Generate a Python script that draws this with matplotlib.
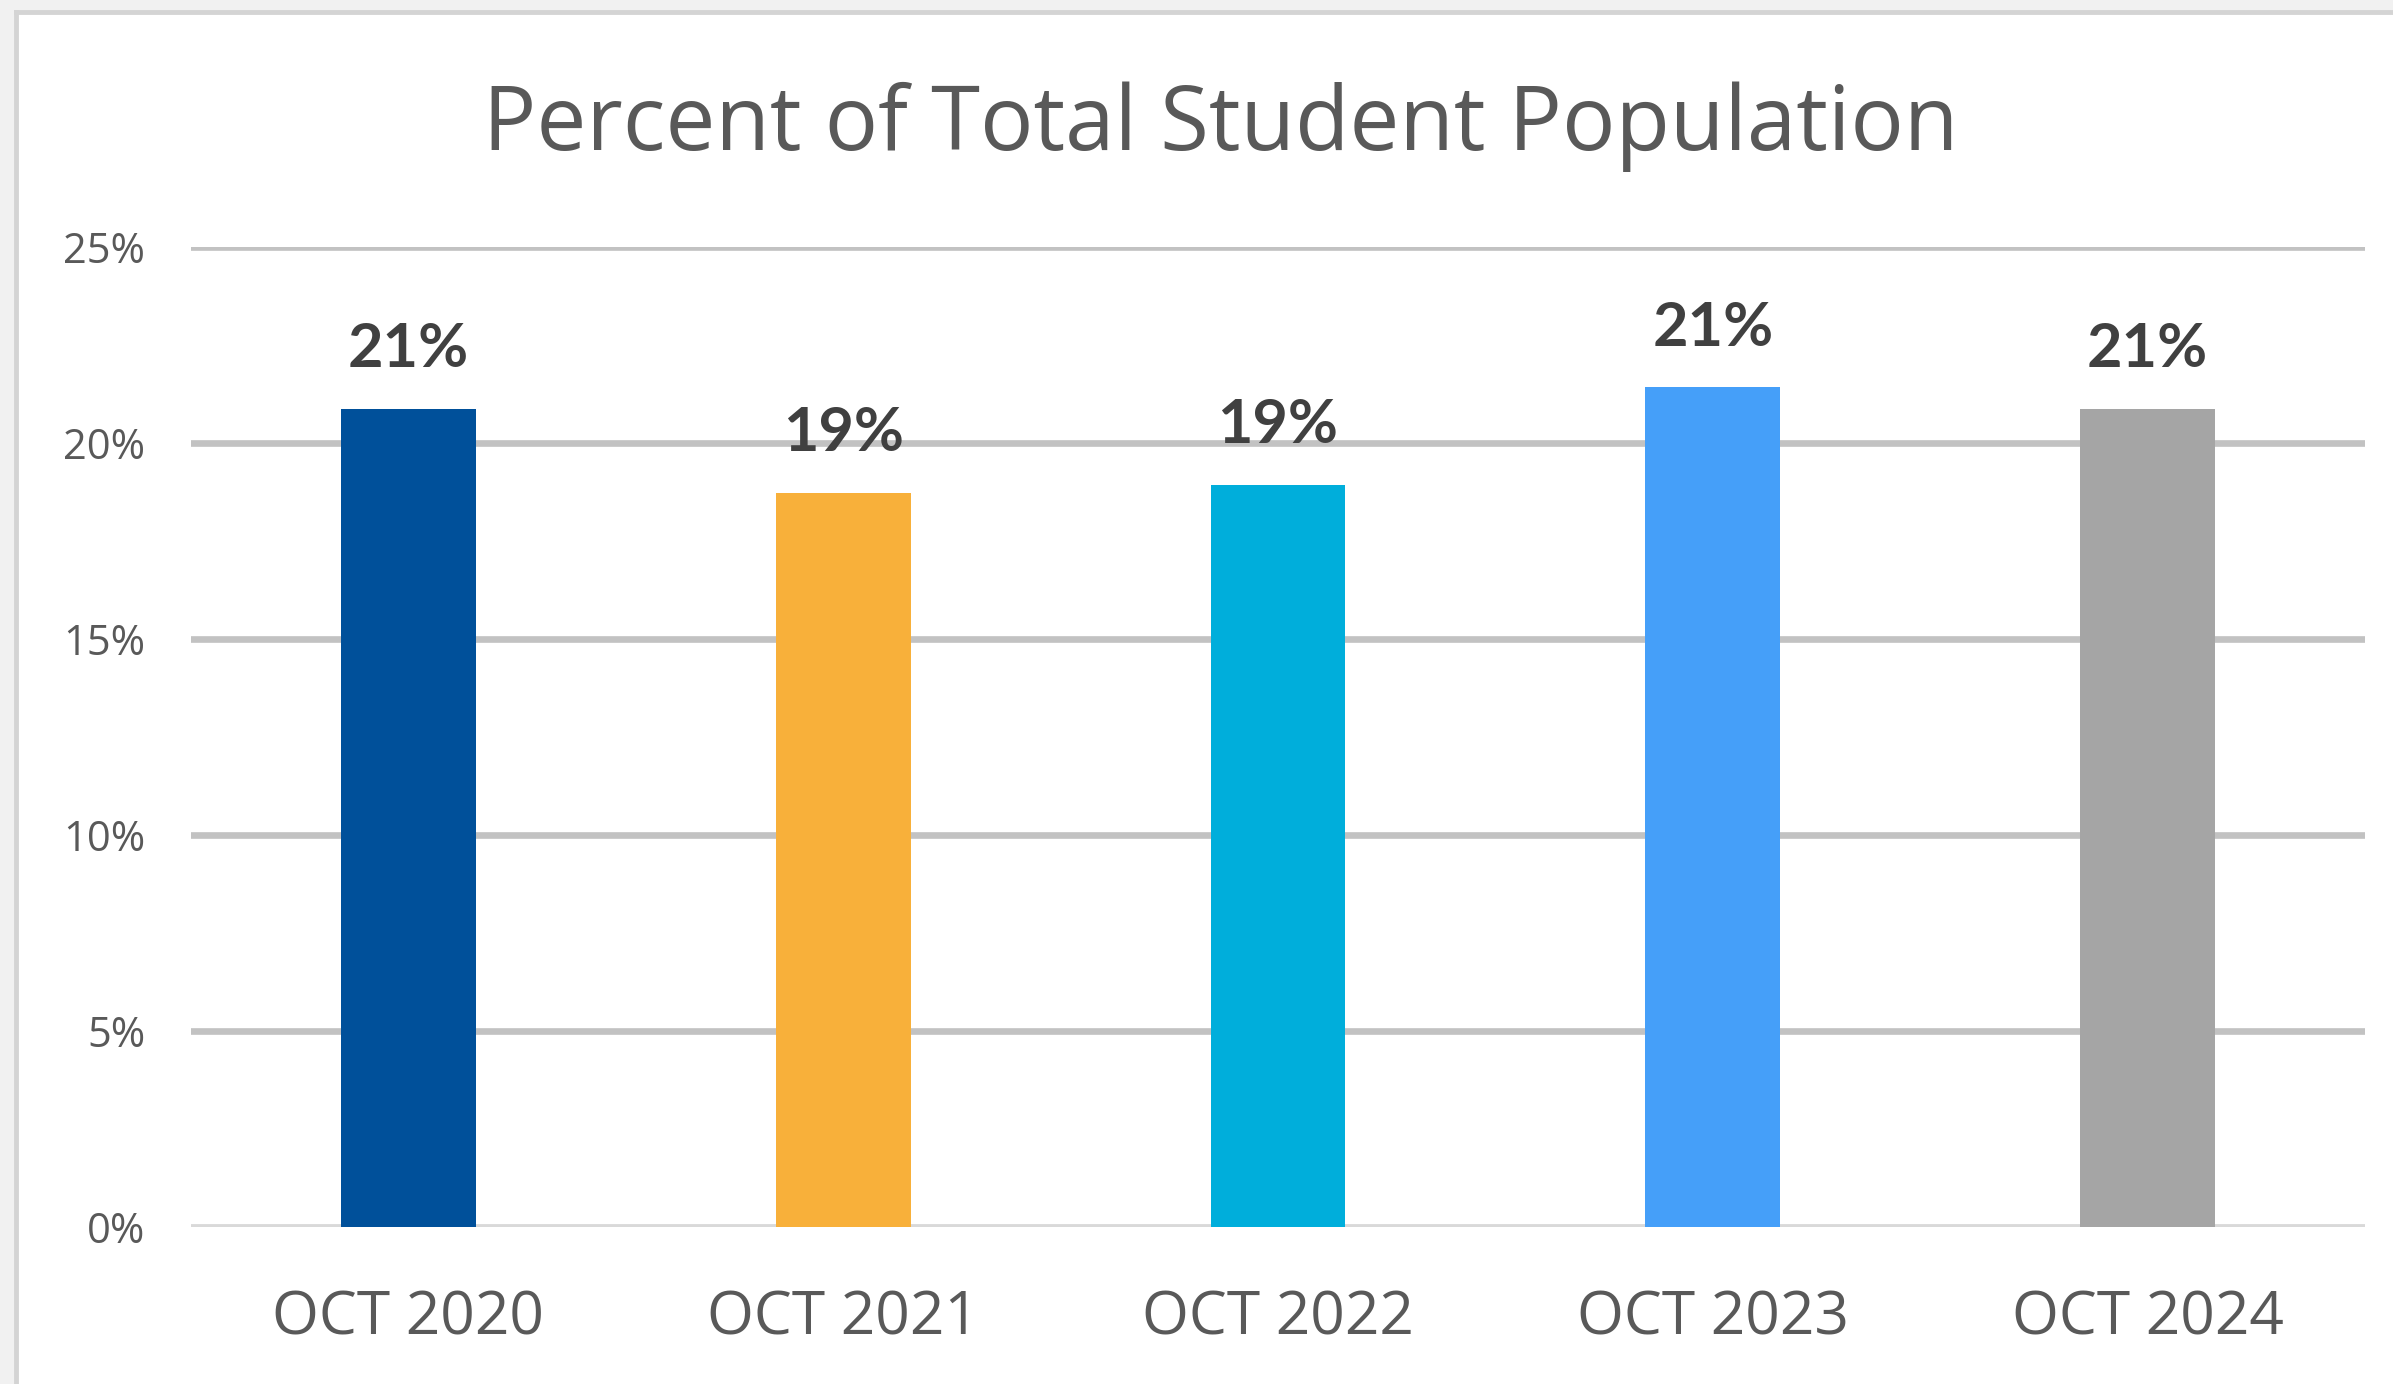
import matplotlib
matplotlib.use("Agg")
import matplotlib.pyplot as plt
from matplotlib.patches import Rectangle
from matplotlib.lines import Line2D

categories = ["OCT 2020", "OCT 2021", "OCT 2022", "OCT 2023", "OCT 2024"]
values = [0.2087, 0.1873, 0.1893, 0.2142, 0.2087]
labels = ["21%", "19%", "19%", "21%", "21%"]
colors = ["#00509A", "#F8B03A", "#00AEDB", "#459FF9", "#A5A5A5"]
yticks = [0, 0.05, 0.10, 0.15, 0.20, 0.25]
ytick_labels = ["0%", "5%", "10%", "15%", "20%", "25%"]

W, H = 2393, 1384
fig = plt.figure(figsize=(W / 100, H / 100), dpi=100)
fig.patch.set_facecolor("#F1F1F1")

# white chart panel with light border on top/left
fig.patches.append(Rectangle((16 / W, 0), 1, 1 - 12 / H, transform=fig.transFigure,
                             facecolor="white", edgecolor="none", zorder=-3))
fig.lines.append(Line2D([16 / W, 1], [1 - 12 / H, 1 - 12 / H], transform=fig.transFigure,
                        color="#D4D4D4", lw=3.5, zorder=-2))
fig.lines.append(Line2D([16 / W, 16 / W], [0, 1 - 12 / H], transform=fig.transFigure,
                        color="#D4D4D4", lw=3.5, zorder=-2))

ax = fig.add_axes([191 / W, 157 / H, (2365 - 191) / W, (1227 - 247) / H])
ax.set_zorder(1)
ax.set_facecolor("none")
x = list(range(len(categories)))
ax.bar(x, values, width=0.31, color=colors, zorder=3)
ax.set_xlim(-0.5, len(categories) - 0.5)
ax.set_ylim(0, 0.25)

for s in ax.spines.values():
    s.set_visible(False)
ax.set_yticks(yticks)
ax.set_yticklabels(ytick_labels)
ax.set_xticks(x)
ax.set_xticklabels(categories)
ax.tick_params(axis="both", length=0)
ax.tick_params(axis="y", pad=33, labelsize=30, labelcolor="#595959")
ax.tick_params(axis="x", pad=44, labelsize=43.5, labelcolor="#595959")
for t in ax.get_yticklabels() + ax.get_xticklabels():
    t.set_fontfamily("Open Sans")

for yv in yticks[1:]:
    ax.axhline(yv, color="#C2C2C2", lw=4.8, zorder=1)
ax.axhline(0, color="#D9D9D9", lw=4.2, zorder=1)

for xi, v, lab in zip(x, values, labels):
    ax.annotate(lab, (xi, v), xytext=(0, 30), textcoords="offset points",
                ha="center", va="baseline", fontsize=44, fontweight="bold",
                color="#404040", fontfamily="Lato")

fig.text(1221 / W, 1 - 127 / H, "Percent of Total Student Population",
         ha="center", va="center", fontsize=64, color="#595959", fontfamily="Open Sans")

fig.savefig("out.png", dpi=100)
